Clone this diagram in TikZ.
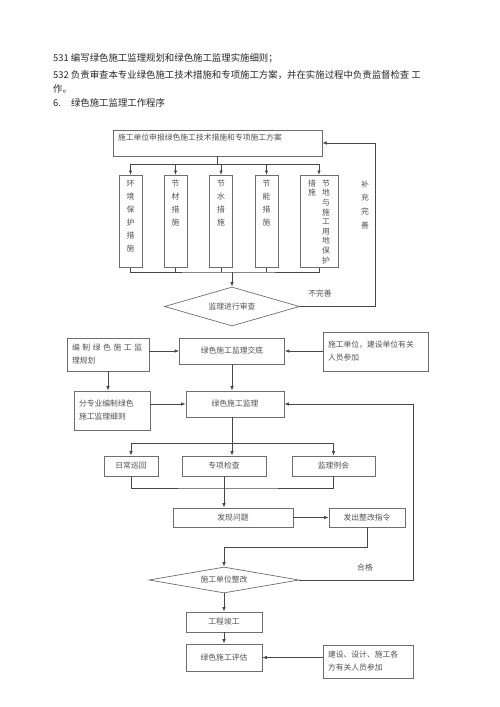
\documentclass[tikz,border=0pt]{standalone}
\usepackage{fontspec}
\setmainfont{Noto Sans CJK SC}
\usepackage{xcolor}
\usetikzlibrary{shapes.geometric,arrows.meta}

\definecolor{linegray}{HTML}{474747}
\definecolor{boxgray}{HTML}{6E6E6E}
\definecolor{textgray}{HTML}{505050}
\newcommand{\colchars}[1]{\begin{tabular}[t]{@{}c@{}}#1\end{tabular}}

\begin{document}
\begin{tikzpicture}[x=1pt, y=-1pt,
    font=\fontsize{7.8}{13}\selectfont, text=textgray,
    >={Latex[length=4.5pt,width=3.5pt]},
    box/.style={draw=boxgray, line width=0.7pt, inner sep=2pt},
    colbox/.style={box, anchor=north, minimum width=23pt, text height=9pt, text depth=79pt},
    decision/.style={draw=boxgray, line width=0.7pt, diamond, inner sep=0pt},
    line/.style={color=linegray, line width=0.8pt},
    head/.style={anchor=west, inner sep=0pt, font=\fontsize{9.4}{11}\selectfont, text=black!85}]
    \useasboundingbox (0,0) rectangle (500,707);

    % heading lines
    \node[head] (l1) at (53,58) {531 编写绿色施工监理规划和绿色施工监理实施细则；};
    \node[head] (l2) at (53,75) {532 负责审查本专业绿色施工技术措施和专项施工方案，并在实施过程中负责监督检查 工};
    \node[head] (l3) at (53,89) {作。};
    \node[head] (l4) at (53,103) {6.\hspace{10pt}绿色施工监理工作程序};

    % plan and measures
    \node[box, minimum width=209pt, text width=199pt, align=left, text height=7pt, text depth=13pt, inner ysep=3pt] (plan) at (217.5,143) {施工单位申报绿色施工技术措施和专项施工方案};
    \node[colbox] (env) at (130.5,175) {\colchars{环\\境\\保\\护\\措\\施}};
    \node[colbox] (mat) at (175.5,175) {\colchars{节\\材\\措\\施}};
    \node[colbox] (wat) at (221,175) {\colchars{节\\水\\措\\施}};
    \node[colbox] (ene) at (266.5,175) {\colchars{节\\能\\措\\施}};
    \node[colbox, minimum width=38pt, font=\fontsize{7.8}{9.6}\selectfont] (land) at (319,175) {\colchars{措\\施}\hspace{6pt}\colchars{节\\地\\与\\施\\工\\用\\地\\保\\护}};

    \coordinate (bt) at (217.5,164);
    \draw[line] (plan.south) -- (bt);
    \draw[line] (env.north |- bt) -- (land.north |- bt);
    \foreach \n in {env,mat,wat,ene,land}
        \draw[line,->] (\n.north |- bt) -- (\n.north);

    \node[decision, aspect=3.5, minimum width=135pt, minimum height=39pt] (review) at (232,306.5) {监理进行审查};
    \coordinate (bb) at (232,272);
    \draw[line] (env.south) |- (bb) -| (land.south);
    \foreach \n in {mat,wat,ene}
        \draw[line] (\n.south) -- (\n.south |- bb);
    \draw[line,->] (bb) -- (review.north);

    \node (bad) at (320,294) {不完善};
    \node[font=\fontsize{7.8}{13.7}\selectfont] (redo) at (365,205) {\colchars{补\\充\\完\\善}};
    \draw[line,->] (review.east) -- ++(75.5,0) |- (plan.east);

    % briefing
    \node[box, minimum width=105pt, minimum height=26pt] (brief) at (232,351) {绿色施工监理交底};
    \node[box, minimum width=82pt, minimum height=33pt, text width=72pt, align=left] (prog) at (108,354.5) {编 制 绿 色 施 工 监\\理规划};
    \node[box, minimum width=105pt, minimum height=39pt, text width=95pt, align=left] (party1) at (375.5,351.5) {施工单位，建设单位有关\\人员参加};
    \node[box, minimum width=76pt, minimum height=39pt, text width=66pt, align=left] (rules) at (112,410.5) {分专业编制绿色\\施工监理细则};
    \node[box, minimum width=98pt, minimum height=26pt] (sup) at (235,404) {绿色施工监理};

    \draw[line,->] (prog.east |- brief) -- (brief.west);
    \draw[line,->] (party1.west |- brief) -- (brief.east);
    \draw[line,->] (prog.south) -- (prog.south |- rules.north);
    \draw[line,->] (brief.south) -- (brief.south |- sup.north);
    \draw[line,->] (rules.east |- sup) -- (sup.west);

    % supervision
    \node[box, minimum width=54pt, minimum height=20pt] (patrol) at (131,466) {日常巡回};
    \node[box, minimum width=84pt, minimum height=20pt] (check) at (224,466) {专项检查};
    \node[box, minimum width=83pt, minimum height=20pt] (meet) at (333.5,466) {监理例会};

    \coordinate (bm) at (232,443);
    \draw[line] (bm |- sup.south) -- (bm);
    \draw[line] (patrol.north |- bm) -- (meet.north |- bm);
    \draw[line,->] (patrol.north |- bm) -- (patrol.north);
    \draw[line,->] (bm) -- (bm |- check.north);
    \draw[line,->] (meet.north |- bm) -- (meet.north);

    \node[box, minimum width=120pt, minimum height=19pt] (issue) at (233,517.5) {发现问题};
    \node[box, minimum width=76pt, minimum height=19pt] (order) at (367,517.5) {发出整改指令};
    \coordinate (bj) at (224,488);
    \draw[line] (patrol.south) |- (bj) -| (meet.south);
    \draw[line] (check.south) -- (bj);
    \draw[line,->] (bj) -- (bj |- issue.north);

    % rectification
    \node[decision, aspect=5.8, minimum width=150pt, minimum height=26pt] (fix) at (224,580) {施工单位整改};
    \coordinate (bo) at (224,547);
    \draw[line,->] (order.south) |- (bo) -- (fix.north);
    \node (ok) at (365,568) {合格};
    \draw[line,->] (fix.east) -- ++(114,0) |- (sup.east);

    % completion
    \node[box, minimum width=76pt, minimum height=20pt] (done) at (224,622) {工程竣工};
    \node[box, minimum width=76pt, minimum height=27pt] (assess) at (224,657.5) {绿色施工评估};
    \node[box, minimum width=90pt, minimum height=33pt, text width=80pt, align=left] (party2) at (368,661.5) {建设、设计、施工各\\方有关人员参加};

    \path[line,->]
        (issue) edge (order)
        (fix) edge (done)
        (done) edge (assess);
    \draw[line,->] (party2.west |- assess) -- (assess.east);
\end{tikzpicture}
\end{document}
